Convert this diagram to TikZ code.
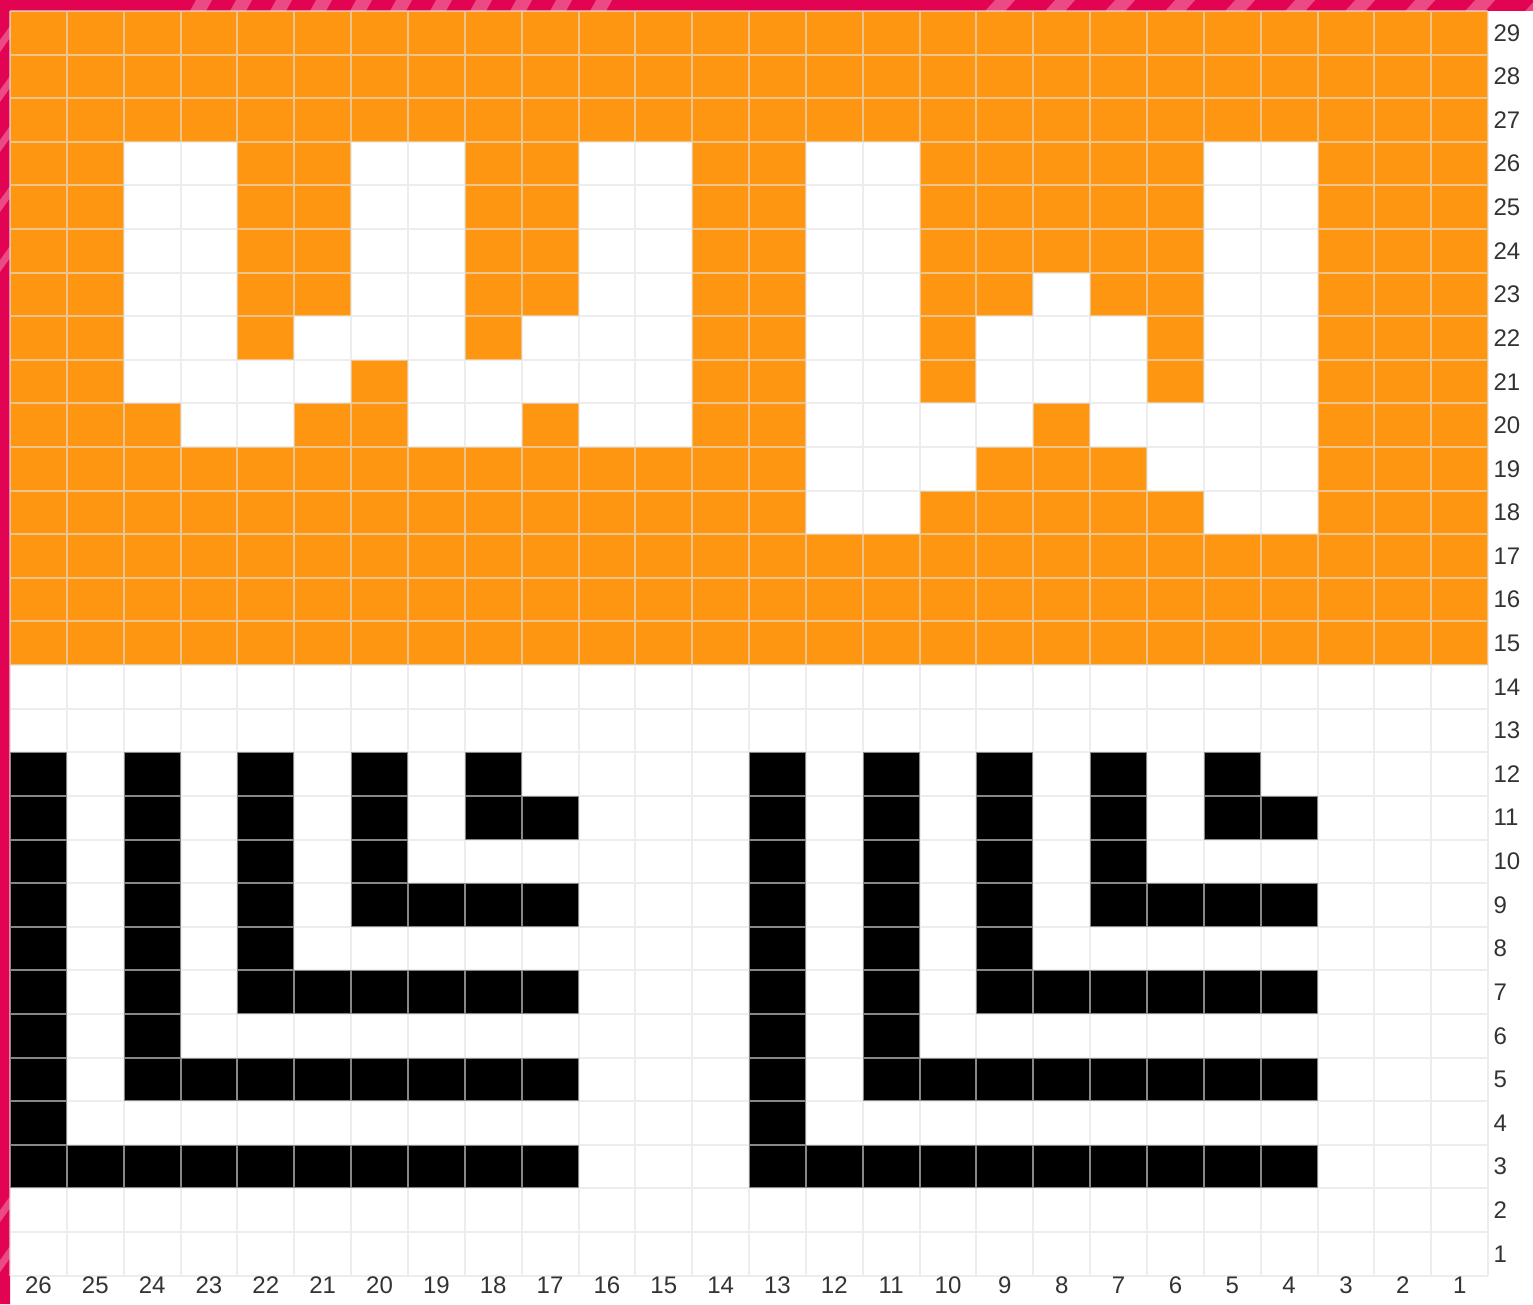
\documentclass[tikz,border=0pt]{standalone}
\usepackage{fontspec}
\setmainfont{Liberation Sans}
\usepackage{xcolor}

\definecolor{chartorange}{RGB}{255,150,18}
\definecolor{framepink}{RGB}{226,4,82}
\definecolor{framestripe}{RGB}{236,74,132}
\definecolor{gridline}{RGB}{226,226,226}
\definecolor{labelgray}{RGB}{51,51,51}

\begin{document}
\begin{tikzpicture}[x=28.42pt,y=21.8pt,
		numlabel/.style={font=\fontsize{12}{14}\selectfont, text=labelgray, inner sep=0pt}]
		\useasboundingbox (-0.176,-0.665) rectangle (26.79,29.252);
		\fill[white] (-0.176,-0.665) rectangle (26.79,29.252);

		% Draw the frame
		\begin{scope}[shift={(-0.176,29.252)},x=0.5pt,y=-0.5pt]
			\fill[framepink] (0,0) rectangle (1533,11) (0,0) rectangle (10,1304);
			\clip (0,0) rectangle (1533,11) (0,0) rectangle (10,1304);
			\foreach \s in {190,230,...,620}
				\fill[framestripe] (\s,11) -- (\s+16,11) -- (\s+22,0) -- (\s+6,0) -- cycle;
			\foreach \s in {985,1045,...,1533}
				\fill[framestripe] (\s,11) -- (\s+20,11) -- (\s+30,0) -- (\s+10,0) -- cycle;
			\foreach \s in {40,90,140,200,260,1210,1260}
				\fill[framestripe] (0,\s) -- (10,\s-14) -- (10,\s-2) -- (0,\s+12) -- cycle;
		\end{scope}

		% Draw the orange band
		\fill[chartorange] (0,14) rectangle (26,29);

		% White stitches in the orange band
		\foreach \r/\cs in {26/{24,23,20,19,16,15,12,11,5,4},
				25/{24,23,20,19,16,15,12,11,5,4},
				24/{24,23,20,19,16,15,12,11,5,4},
				23/{24,23,20,19,16,15,12,11,8,5,4},
				22/{24,23,21,20,19,17,16,15,12,11,9,8,7,5,4},
				21/{24,23,22,21,19,18,17,16,15,12,11,9,8,7,5,4},
				20/{23,22,19,18,16,15,12,11,10,9,7,6,5,4},
				19/{12,11,10,6,5,4},
				18/{12,11,5,4}}
			{\foreach \c in \cs \fill[white] (26-\c,\r-1) rectangle ++(1,1);}

		% Black stitches in the white band
		\foreach \r/\cs in {12/{26,24,22,20,18,13,11,9,7,5},
				11/{26,24,22,20,18,17,13,11,9,7,5,4},
				10/{26,24,22,20,13,11,9,7},
				9/{26,24,22,20,19,18,17,13,11,9,7,6,5,4},
				8/{26,24,22,13,11,9},
				7/{26,24,22,21,20,19,18,17,13,11,9,8,7,6,5,4},
				6/{26,24,13,11},
				5/{26,24,23,22,21,20,19,18,17,13,11,10,9,8,7,6,5,4},
				4/{26,13},
				3/{26,25,24,23,22,21,20,19,18,17,13,12,11,10,9,8,7,6,5,4}}
			{\foreach \c in \cs \fill[black] (26-\c,\r-1) rectangle ++(1,1);}

		% Draw the grid
		\draw[gridline, opacity=0.6, line width=1pt, step=1] (0,0) grid (26,29);

		% Add row and column numbers
		\foreach \r in {1,...,29}
			\node[numlabel, anchor=west] (row\r) at (26.09,\r-0.5) {\r};
		\foreach \c in {1,...,26}
			\node[numlabel] (col\c) at (26.5-\c,-0.23) {\c};
	\end{tikzpicture}
\end{document}
